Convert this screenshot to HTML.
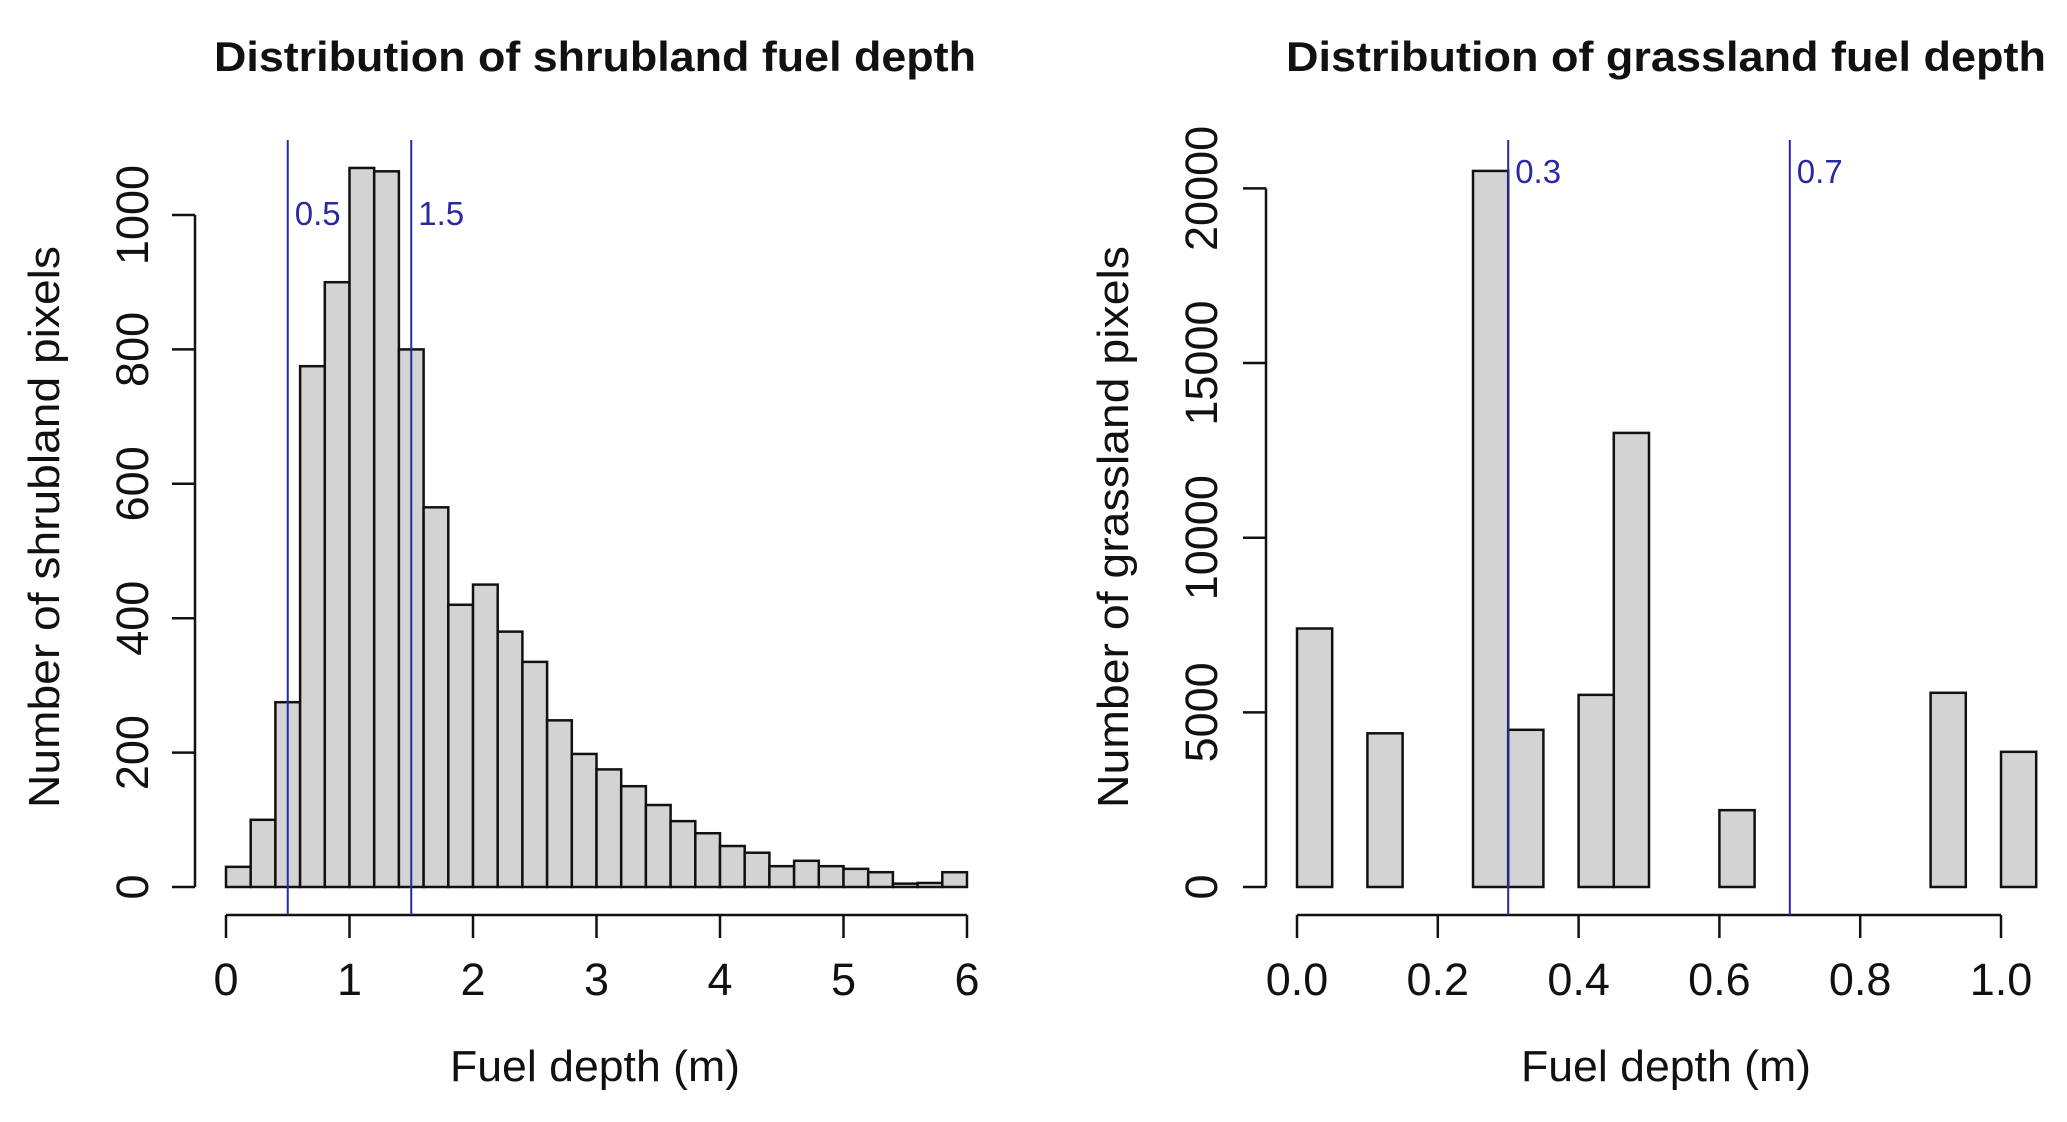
<!DOCTYPE html>
<html><head><meta charset="utf-8">
<style>
html,body{margin:0;padding:0;background:#fff;}
svg{display:block;font-family:"Liberation Sans",Arial,sans-serif;}
</style></head>
<body>
<svg id="chart" width="2067" height="1122" viewBox="0 0 2067 1122" xmlns="http://www.w3.org/2000/svg">
<rect width="2067" height="1122" fill="#fff"/>
</svg>
<script>
// Shrubland histogram data (bins of 0.2 m from 0 to 6)
const shrubBinStart = 0, shrubBinWidth = 0.2;
const shrubCounts = [30,100,275,775,900,1070,1065,800,565,420,450,380,335,248,198,175,150,122,98,80,61,51,31,39,31,27,22,5,6,22];
const shrubXTicks = [0,1,2,3,4,5,6];
const shrubYTicks = [0,200,400,600,800,1000];
const shrubLines = [0.5,1.5];
const shrubLineLabels = ["0.5","1.5"];
// Grassland histogram data (bins of 0.05 m from 0 to 1.05)
const grassBinStart = 0, grassBinWidth = 0.05;
const grassCounts = [7400,0,4400,0,0,20500,4500,0,5500,13000,0,0,2200,0,0,0,0,0,5560,0,3870];
const grassXTicks = [0,0.2,0.4,0.6,0.8,1.0];
const grassXTickLabels = ["0.0","0.2","0.4","0.6","0.8","1.0"];
const grassYTicks = [0,5000,10000,15000,20000];
const grassLines = [0.3,0.7];
const grassLineLabels = ["0.3","0.7"];

const NS = "http://www.w3.org/2000/svg";
const svg = document.getElementById('chart');
function mk(tag, attrs, parent){
  const e = document.createElementNS(NS, tag);
  for (const k in attrs) e.setAttribute(k, attrs[k]);
  (parent||svg).appendChild(e);
  return e;
}

function drawPanel(p){
  const g = mk('g', {});
  
  
  const X = v => p.x0 + (v - p.xmin) * p.xs;
  const Y = v => p.y0 - v * p.ys;
  p.counts.forEach((c, i) => {
    if (c <= 0) return;
    const a = p.binStart + i * p.binWidth, b = a + p.binWidth;
    const r = mk('rect', {x: X(a), y: Y(c), width: X(b) - X(a), height: Y(0) - Y(c), fill: '#d3d3d3', stroke: '#111', 'stroke-width': 2.5}, g);
    
    
  });
  const xa = mk('g', {}, g);
  
  
  const xt = p.xTicks;
  mk('line', {x1: X(xt[0]), x2: X(xt[xt.length-1]), y1: p.xAxisY, y2: p.xAxisY, stroke: '#111', 'stroke-width': 2.5}, xa);
  xt.forEach((t, i) => {
    mk('line', {x1: X(t), x2: X(t), y1: p.xAxisY, y2: p.xAxisY + 23, stroke: '#111', 'stroke-width': 2.5}, xa);
    const tx = mk('text', {x: X(t), y: 995, 'text-anchor': 'middle', 'font-size': 45, fill: '#111'}, xa);
    tx.textContent = p.xTickLabels ? p.xTickLabels[i] : String(t);
    
    
  });
  const ya = mk('g', {}, g);
  
  
  const yt = p.yTicks;
  mk('line', {x1: p.yAxisX, x2: p.yAxisX, y1: Y(yt[0]), y2: Y(yt[yt.length-1]), stroke: '#111', 'stroke-width': 2.5}, ya);
  yt.forEach(t => {
    mk('line', {x1: p.yAxisX - 23, x2: p.yAxisX, y1: Y(t), y2: Y(t), stroke: '#111', 'stroke-width': 2.5}, ya);
    const tx = mk('text', {x: p.yTickX, y: Y(t), 'text-anchor': 'middle', 'font-size': 45, fill: '#111', transform: `rotate(-90 ${p.yTickX} ${Y(t)})`}, ya);
    tx.textContent = String(t);
    
    
  });
  p.lines.forEach((v, i) => {
    const l = mk('line', {x1: X(v), x2: X(v), y1: 140, y2: p.xAxisY, stroke: '#2a2aa0', 'stroke-width': 2}, g);
    
    
    const t = mk('text', {x: X(v) + 7, y: p.lineLabelY, 'font-size': 33, fill: '#2a2aa0'}, g);
    t.textContent = p.lineLabels[i];
    
    
  });
  const ti = mk('text', {x: p.titleX, y: 71, 'text-anchor': 'middle', 'font-size': 42, 'font-weight': 'bold', fill: '#111', textLength: p.titleLen, lengthAdjust: 'spacingAndGlyphs'}, g);
  ti.textContent = p.title;
  
  
  const xl = mk('text', {x: p.xLabelX, y: 1081, 'text-anchor': 'middle', 'font-size': 44, fill: '#111', textLength: 290, lengthAdjust: 'spacingAndGlyphs'}, g);
  xl.textContent = 'Fuel depth (m)';
  
  
  const yl = mk('text', {x: p.yLabelX, y: 527, 'text-anchor': 'middle', 'font-size': 44, fill: '#111', textLength: 562, lengthAdjust: 'spacingAndGlyphs', transform: `rotate(-90 ${p.yLabelX} 527)`}, g);
  yl.textContent = p.yLabel;
  
  
}

drawPanel({name: 'shrubland-panel', x0: 226, xmin: 0, xs: 123.5, y0: 887, ys: 0.672,
  binStart: shrubBinStart, binWidth: shrubBinWidth, counts: shrubCounts,
  xTicks: shrubXTicks, yTicks: shrubYTicks, lines: shrubLines, lineLabels: shrubLineLabels, lineLabelY: 225,
  xAxisY: 915, yAxisX: 195, yTickX: 148,
  title: 'Distribution of shrubland fuel depth', titleX: 595, titleLen: 762,
  xLabelX: 595, yLabelX: 59, yLabel: 'Number of shrubland pixels'});

drawPanel({name: 'grassland-panel', x0: 1297, xmin: 0, xs: 704, y0: 887, ys: 0.03493,
  binStart: grassBinStart, binWidth: grassBinWidth, counts: grassCounts,
  xTicks: grassXTicks, xTickLabels: grassXTickLabels, yTicks: grassYTicks, lines: grassLines, lineLabels: grassLineLabels, lineLabelY: 183,
  xAxisY: 915, yAxisX: 1266, yTickX: 1217,
  title: 'Distribution of grassland fuel depth', titleX: 1666, titleLen: 760,
  xLabelX: 1666, yLabelX: 1128, yLabel: 'Number of grassland pixels'});
</script>
</body></html>
